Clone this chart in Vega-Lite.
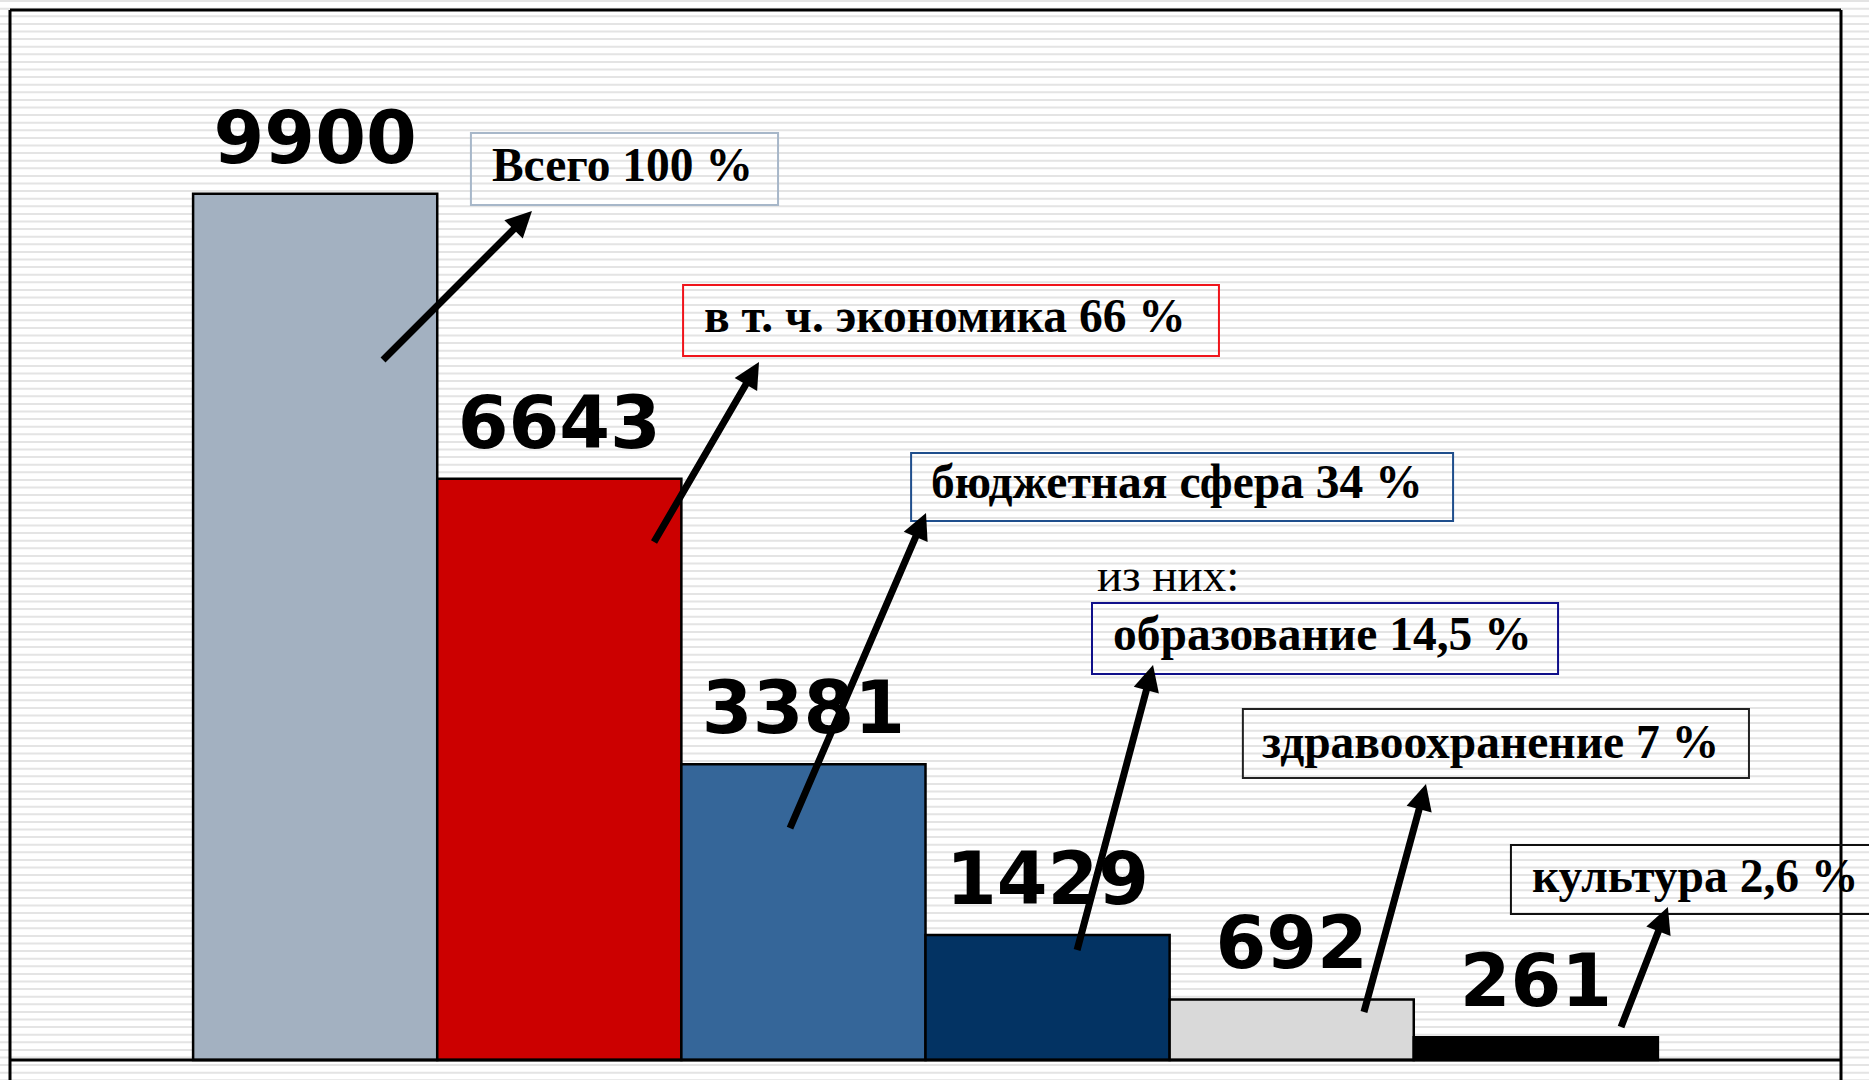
{
  "$schema": "https://vega.github.io/schema/vega-lite/v6.json",
  "width": 1831,
  "height": 1070,
  "autosize": {"type": "none"},
  "padding": {"left": 10, "top": 10, "right": 28, "bottom": 0},
  "background": "white",
  "config": {"view": {"stroke": null}},
  "datasets": {
    "bars": [
      {"cat": "Всего", "value": 9900},
      {"cat": "экономика", "value": 6643},
      {"cat": "бюджетная сфера", "value": 3381},
      {"cat": "образование", "value": 1429},
      {"cat": "здравоохранение", "value": 692},
      {"cat": "культура", "value": 261}
    ],
    "boxes": [
      {"box": "Всего", "x": 1.888, "x2": 3.146, "y": 10594, "y2": 9771, "text": "Всего 100 %", "tx": 1.974, "ty": 10046},
      {"box": "экономика", "x": 2.757, "x2": 4.952, "y": 8857, "y2": 8046, "text": "в т. ч. экономика 66 %", "tx": 2.843, "ty": 8320},
      {"box": "бюджетная сфера", "x": 3.691, "x2": 5.911, "y": 6937, "y2": 6160, "text": "бюджетная сфера 34 %", "tx": 3.773, "ty": 6423},
      {"box": "образование", "x": 4.432, "x2": 6.341, "y": 5223, "y2": 4411, "text": "образование 14,5 %", "tx": 4.518, "ty": 4686},
      {"box": "здравоохранение", "x": 5.05, "x2": 7.123, "y": 4011, "y2": 3223, "text": "здравоохранение 7 %", "tx": 5.128, "ty": 3451},
      {"box": "культура", "x": 6.148, "x2": 7.66, "y": 2457, "y2": 1669, "text": "культура 2,6 %", "tx": 6.234, "ty": 1920}
    ],
    "arrows": [
      {"tipX": 2.138, "tipY": 9703, "tailX": 1.528, "tailY": 8000},
      {"tipX": 3.068, "tipY": 7977, "tailX": 2.638, "tailY": 5920},
      {"tipX": 3.752, "tipY": 6251, "tailX": 3.195, "tailY": 2651},
      {"tipX": 4.682, "tipY": 4514, "tailX": 4.371, "tailY": 1257},
      {"tipX": 5.8, "tipY": 3154, "tailX": 5.546, "tailY": 549},
      {"tipX": 6.791, "tipY": 1749, "tailX": 6.599, "tailY": 377}
    ]
  },
  "layer": [
    {
      "data": {"values": [{}]},
      "mark": {"type": "rule", "stroke": "#e4e4e4", "strokeWidth": 2000, "strokeDash": [2, 5.6], "strokeCap": "butt"},
      "encoding": {
        "x": {"datum": 3.75, "type": "quantitative", "scale": {"domain": [0, 7.5], "nice": false, "zero": false}, "axis": null},
        "y": {"datum": 12200, "type": "quantitative", "scale": {"domain": [-228.571, 12000], "nice": false, "zero": false}, "axis": null},
        "y2": {"datum": -300}
      }
    },
    {
      "data": {"name": "bars"},
      "layer": [
        {
          "mark": {"type": "bar", "stroke": "black", "strokeWidth": 2.5},
          "encoding": {
            "x": {"field": "cat", "type": "nominal", "sort": null, "scale": {"paddingInner": 0, "paddingOuter": 0.75}, "axis": null},
            "y": {"field": "value", "type": "quantitative", "scale": {"domain": [-228.571, 12000], "nice": false, "zero": false}, "axis": null},
            "y2": {"datum": 0},
            "fill": {"field": "cat", "type": "nominal", "scale": {"domain": ["Всего", "экономика", "бюджетная сфера", "образование", "здравоохранение", "культура"], "range": ["#a3b1c1", "#cc0000", "#356699", "#033363", "#d9d9d9", "#000000"]}, "legend": null}
          }
        },
        {
          "mark": {"type": "text", "font": "DejaVu Sans", "fontWeight": "bold", "fontSize": 73, "baseline": "alphabetic", "align": "center", "dy": -31, "color": "black"},
          "encoding": {
            "x": {"field": "cat", "type": "nominal", "sort": null, "scale": {"paddingInner": 0, "paddingOuter": 0.75}, "axis": null},
            "y": {"field": "value", "type": "quantitative", "scale": {"domain": [-228.571, 12000], "nice": false, "zero": false}, "axis": null},
            "text": {"field": "value", "type": "quantitative", "format": "d"}
          }
        }
      ]
    },
    {
      "layer": [
        {
          "data": {"values": [{}]},
          "mark": {"type": "rule", "stroke": "black", "strokeWidth": 3},
          "encoding": {
            "y": {"datum": 0, "type": "quantitative", "scale": {"domain": [-228.571, 12000], "nice": false, "zero": false}, "axis": null}
          }
        },
        {
          "data": {"values": [{}]},
          "mark": {"type": "rule", "stroke": "black", "strokeWidth": 3},
          "encoding": {
            "y": {"datum": 12000, "type": "quantitative", "scale": {"domain": [-228.571, 12000], "nice": false, "zero": false}, "axis": null}
          }
        },
        {
          "data": {"values": [{"edge": 0}, {"edge": 7.5}]},
          "mark": {"type": "rule", "stroke": "black", "strokeWidth": 3},
          "encoding": {
            "x": {"field": "edge", "type": "quantitative", "scale": {"domain": [0, 7.5], "nice": false, "zero": false}, "axis": null}
          }
        },
        {
          "data": {"name": "boxes"},
          "mark": {"type": "rect", "fill": null, "fillOpacity": 0, "strokeWidth": 2},
          "encoding": {
            "x": {"field": "x", "type": "quantitative", "scale": {"domain": [0, 7.5], "nice": false, "zero": false}, "axis": null},
            "x2": {"field": "x2"},
            "y": {"field": "y", "type": "quantitative", "scale": {"domain": [-228.571, 12000], "nice": false, "zero": false}, "axis": null},
            "y2": {"field": "y2"},
            "stroke": {"field": "box", "type": "nominal", "scale": {"domain": ["Всего", "экономика", "бюджетная сфера", "образование", "здравоохранение", "культура"], "range": ["#a7b7c9", "#f0141b", "#1f4e8c", "#10108a", "#222222", "#111111"]}, "legend": null}
          }
        },
        {
          "data": {"name": "boxes"},
          "mark": {"type": "text", "font": "Liberation Serif", "fontWeight": "bold", "fontSize": 47.5, "align": "left", "baseline": "alphabetic", "color": "black"},
          "encoding": {
            "x": {"field": "tx", "type": "quantitative", "scale": {"domain": [0, 7.5], "nice": false, "zero": false}, "axis": null},
            "y": {"field": "ty", "type": "quantitative", "scale": {"domain": [-228.571, 12000], "nice": false, "zero": false}, "axis": null},
            "text": {"field": "text", "type": "nominal"}
          }
        },
        {
          "data": {"values": [{"text": "из них:", "tx": 4.452, "ty": 5360}]},
          "mark": {"type": "text", "font": "Liberation Serif", "fontWeight": "normal", "fontSize": 47, "align": "left", "baseline": "alphabetic", "color": "black"},
          "encoding": {
            "x": {"field": "tx", "type": "quantitative", "scale": {"domain": [0, 7.5], "nice": false, "zero": false}, "axis": null},
            "y": {"field": "ty", "type": "quantitative", "scale": {"domain": [-228.571, 12000], "nice": false, "zero": false}, "axis": null},
            "text": {"field": "text", "type": "nominal"}
          }
        },
        {
          "data": {"name": "arrows"},
          "mark": {"type": "rule", "stroke": "black", "strokeWidth": 7, "strokeCap": "butt", "strokeDash": [0, 14, 2000, 0]},
          "encoding": {
            "x": {"field": "tipX", "type": "quantitative", "scale": {"domain": [0, 7.5], "nice": false, "zero": false}, "axis": null},
            "y": {"field": "tipY", "type": "quantitative", "scale": {"domain": [-228.571, 12000], "nice": false, "zero": false}, "axis": null},
            "x2": {"field": "tailX"},
            "y2": {"field": "tailY"}
          }
        },
        {
          "data": {"name": "arrows"},
          "transform": [
            {"calculate": "atan2((datum.tipX - datum.tailX) * 244.133, (datum.tipY - datum.tailY) * 0.0875) * 180 / PI", "as": "ang"}
          ],
          "mark": {"type": "point", "shape": "M0,0L1,2L-1,2Z", "filled": true, "fill": "black", "stroke": null, "opacity": 1, "size": 676},
          "encoding": {
            "x": {"field": "tipX", "type": "quantitative", "scale": {"domain": [0, 7.5], "nice": false, "zero": false}, "axis": null},
            "y": {"field": "tipY", "type": "quantitative", "scale": {"domain": [-228.571, 12000], "nice": false, "zero": false}, "axis": null},
            "angle": {"field": "ang", "type": "quantitative", "scale": null}
          }
        }
      ]
    }
  ],
  "resolve": {"scale": {"x": "independent"}}
}
